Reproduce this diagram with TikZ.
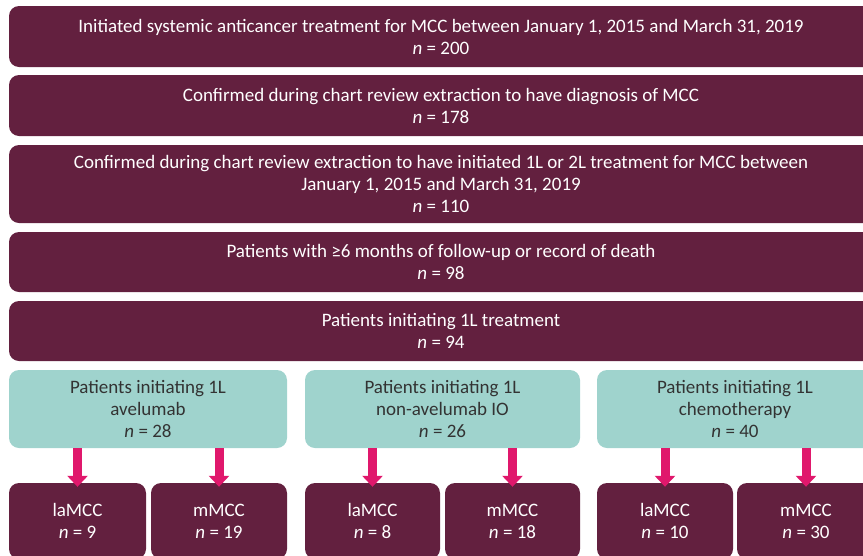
\documentclass[tikz,border=0pt]{standalone}
\usepackage{fontspec}
\setmainfont{Carlito}
\usetikzlibrary{arrows.meta}

\definecolor{maroon}{HTML}{63203F}
\definecolor{tealbox}{HTML}{9FD3CD}
\definecolor{pinkarrow}{HTML}{E0186C}

\tikzset{
  stagebox/.style={fill=maroon, text=white, rounded corners=10pt, inner sep=0pt,
    align=center, font=\fontsize{19}{22}\selectfont},
  groupbox/.style={fill=tealbox, text=black!80, rounded corners=10pt, inner sep=0pt,
    align=center, font=\fontsize{19}{22}\selectfont},
  flowarrow/.style={draw=pinkarrow, line width=9pt, -{Triangle[width=20pt,length=11pt]}}
}

\begin{document}
\begin{tikzpicture}[x=1pt, y=-1pt]
  \useasboundingbox (0,0) rectangle (863,555);
  \clip (0,0) rectangle (863,555);
  % main steps
  \node[stagebox, minimum width=864pt, minimum height=61pt] (s1) at (441,36.5)
    {Initiated systemic anticancer treatment for MCC between January 1, 2015 and March 31, 2019\\ \textit{n} = 200};
  \node[stagebox, minimum width=864pt, minimum height=61pt] (s2) at (441,105.5)
    {Confirmed during chart review extraction to have diagnosis of MCC\\ \textit{n} = 178};
  \node[stagebox, minimum width=864pt, minimum height=78pt] (s3) at (441,184)
    {Confirmed during chart review extraction to have initiated 1L or 2L treatment for MCC between\\ January 1, 2015 and March 31, 2019\\ \textit{n} = 110};
  \node[stagebox, minimum width=864pt, minimum height=60pt] (s4) at (441,262)
    {Patients with ≥6 months of follow-up or record of death\\ \textit{n} = 98};
  \node[stagebox, minimum width=864pt, minimum height=60pt] (s5) at (441,331)
    {Patients initiating 1L treatment\\ \textit{n} = 94};
  % treatment groups
  \node[groupbox, minimum width=278pt, minimum height=78pt] (avel) at (148,409)
    {Patients initiating 1L\\ avelumab\\ \textit{n} = 28};
  \node[groupbox, minimum width=275pt, minimum height=78pt] (nonavel) at (442.5,409)
    {Patients initiating 1L\\ non-avelumab IO\\ \textit{n} = 26};
  \node[groupbox, minimum width=276pt, minimum height=78pt] (chemo) at (735,409)
    {Patients initiating 1L\\ chemotherapy\\ \textit{n} = 40};
  % disease stage per group
  \node[stagebox, minimum width=137pt, minimum height=76pt] (avella) at (77.5,521)
    {laMCC\\ \textit{n} = 9};
  \node[stagebox, minimum width=136pt, minimum height=76pt] (avelm) at (219,521)
    {mMCC\\ \textit{n} = 19};
  \node[stagebox, minimum width=135pt, minimum height=76pt] (nonavella) at (372.5,521)
    {laMCC\\ \textit{n} = 8};
  \node[stagebox, minimum width=135pt, minimum height=76pt] (nonavelm) at (512.5,521)
    {mMCC\\ \textit{n} = 18};
  \node[stagebox, minimum width=136pt, minimum height=76pt] (chemola) at (665,521)
    {laMCC\\ \textit{n} = 10};
  \node[stagebox, minimum width=138pt, minimum height=76pt] (chemom) at (806,521)
    {mMCC\\ \textit{n} = 30};
  % arrows from groups to stages
  \draw[flowarrow] (avel.south -| avella) -- ([yshift=-4pt]avella.north);
  \draw[flowarrow] (avel.south -| avelm) -- ([yshift=-4pt]avelm.north);
  \draw[flowarrow] (nonavel.south -| nonavella) -- ([yshift=-4pt]nonavella.north);
  \draw[flowarrow] (nonavel.south -| nonavelm) -- ([yshift=-4pt]nonavelm.north);
  \draw[flowarrow] (chemo.south -| chemola) -- ([yshift=-4pt]chemola.north);
  \draw[flowarrow] (chemo.south -| chemom) -- ([yshift=-4pt]chemom.north);
\end{tikzpicture}
\end{document}
